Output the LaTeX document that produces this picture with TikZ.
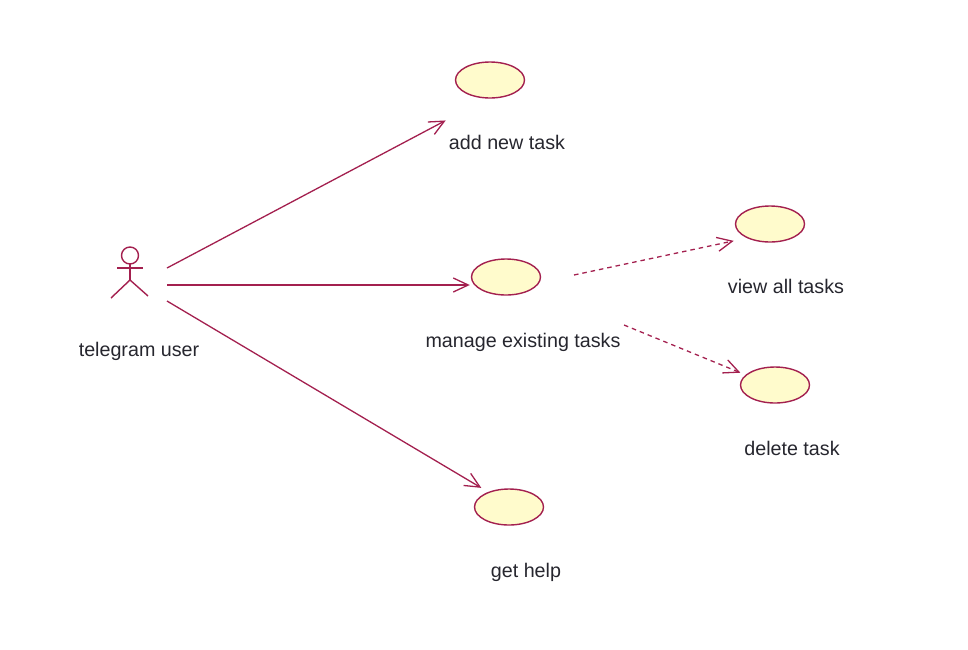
\documentclass[tikz,border=0pt]{standalone}
\usepackage{fontspec}
\setmainfont{Liberation Sans}
\usetikzlibrary{arrows.meta,shapes.geometric}
\definecolor{rose}{HTML}{A3204F}
\definecolor{usefill}{HTML}{FFFBCC}
\definecolor{labelink}{HTML}{26262E}
\tikzset{
  usecase/.style={ellipse,draw=rose,fill=usefill,line width=1.4pt,minimum width=69pt,minimum height=36pt,inner sep=0pt,outer sep=0pt},
  lbl/.style={font=\fontsize{19.7}{22}\selectfont,text=labelink,inner sep=0pt,anchor=base},
  assoc/.style={draw=rose,line width=1.3pt,-{Straight Barb[length=15pt,width=14pt,line width=1.3pt]}},
  dep/.style={draw=rose,line width=1.3pt,dash pattern=on 4.5pt off 4pt,-{Straight Barb[length=15pt,width=14pt,line width=1.3pt]}},
  actorline/.style={draw=rose,line width=1.4pt}
}
\begin{document}
\begin{tikzpicture}[x=1pt,y=-1pt]
\useasboundingbox (0,0) rectangle (968,649);
% actor
\draw[actorline] (130,255.5) circle[radius=8.5pt];
\draw[actorline] (130,264) -- (130,280);
\draw[actorline] (117,268) -- (143,268);
\draw[actorline] (111,298) -- (130,280) -- (148,296);
% use cases
\node[usecase] (add) at (490,80) {};
\node[usecase] (manage) at (506,277) {};
\node[usecase] (view) at (770,224) {};
\node[usecase] (delete) at (775,385) {};
\node[usecase] (help) at (509,507) {};
% labels
\node[lbl] (actorlabel) at (139,356) {telegram user};
\node[lbl] (addlabel) at (507,149.5) {add new task};
\node[lbl] (managelabel) at (523,347.5) {manage existing tasks};
\node[lbl] (viewlabel) at (786,293.3) {view all tasks};
\node[lbl] (deletelabel) at (792,455.3) {delete task};
\node[lbl] (helplabel) at (526,577.3) {get help};
% free ends
\coordinate (actorA) at (167,268);
\coordinate (actorB) at (167,285);
\coordinate (actorC) at (167,301);
\coordinate (manageA) at (574,275);
\coordinate (manageB) at (624,325);
% connectors
\draw[assoc,shorten >=48pt] (actorA) -- (add.264.6);
\draw[assoc,shorten >=5.1pt] (actorB) -- (actorB -| manage.194.5);
\draw[assoc,shorten >=8.8pt] (actorC) -- (help.144.6);
\draw[dep,shorten >=14.5pt] (manageA) -- (view.212.7);
\draw[dep,shorten >=6.3pt] (manageB) -- (delete.161.8);
\end{tikzpicture}
\end{document}
